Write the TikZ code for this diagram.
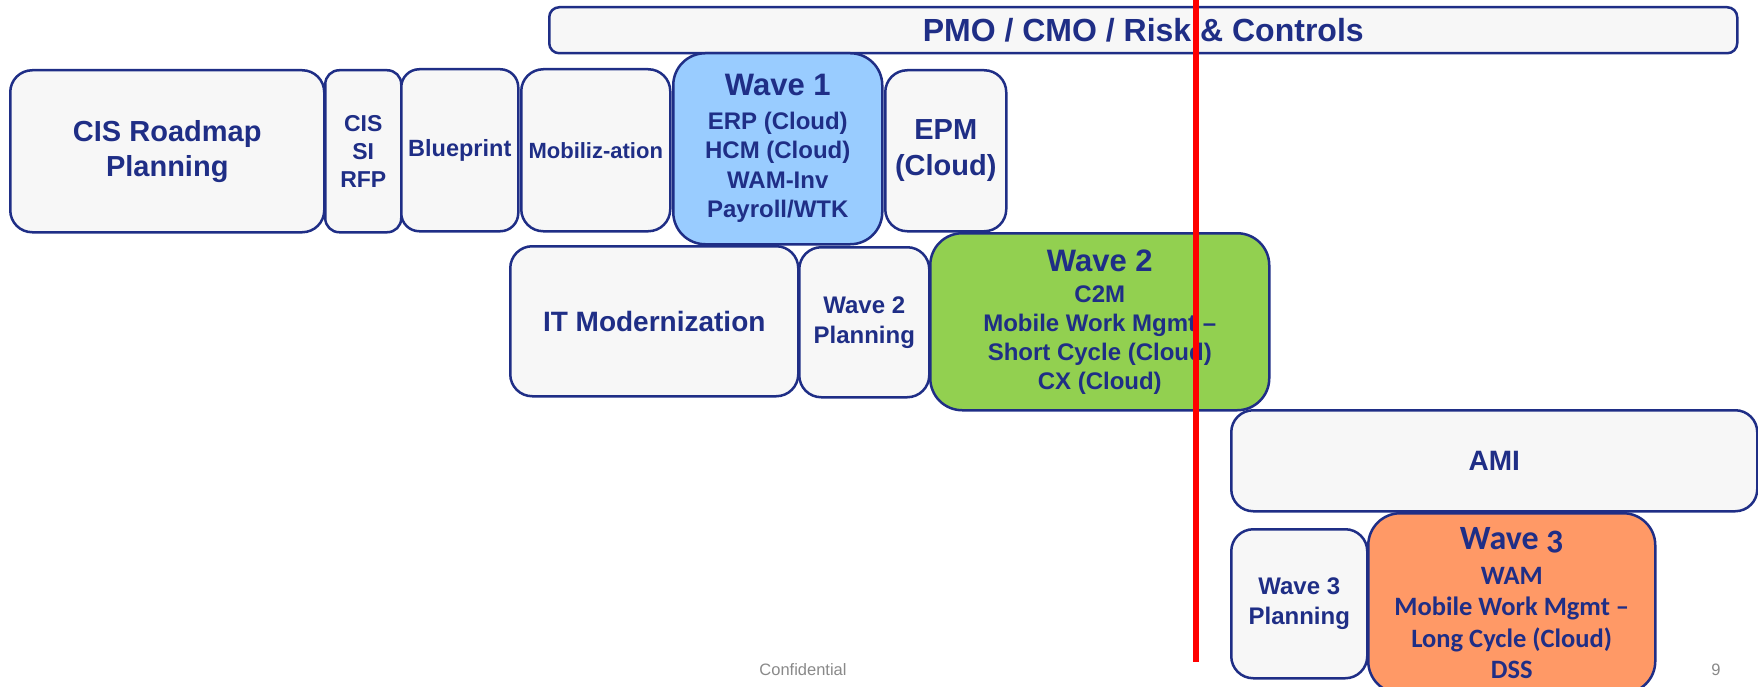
\documentclass[tikz,border=0pt]{standalone}
\usepackage{fontspec}
\setmainfont{Liberation Sans}
\newfontfamily\wavefont{Carlito}[Numbers=OldStyle]
\usepackage{xcolor}
\usepackage{tikz}

\definecolor{navy}{RGB}{31,46,134}
\definecolor{boxgray}{RGB}{247,247,247}
\definecolor{waveblue}{RGB}{153,204,255}
\definecolor{wavegreen}{RGB}{146,208,80}
\definecolor{waveorange}{RGB}{255,153,102}
\definecolor{footgray}{RGB}{137,137,137}
\newcommand{\fsz}[2]{\fontsize{#1}{#2}\selectfont}

\begin{document}
\begin{tikzpicture}[x=1pt,y=-1pt,
	phase/.style={draw=navy,line width=2.5pt,fill=boxgray,rounded corners=22pt,anchor=north west,inner sep=0pt,align=center,text=navy,font=\bfseries\fsz{24}{28}},
	foot/.style={text=footgray,anchor=base,inner sep=0pt,font=\fsz{16.5}{19}}]

	\useasboundingbox (0,0) rectangle (1758,687);

	\node[phase,rounded corners=10pt,minimum width=1188pt,minimum height=46pt,font=\bfseries\fsz{32}{36}] (pmo) at (548,6) {PMO / CMO / Risk \& Controls};

	\node[phase,minimum width=314pt,minimum height=162pt,font=\bfseries\fsz{29}{35}] (roadmap) at (9,69) {CIS Roadmap\\Planning};
	\node[phase,rounded corners=14pt,minimum width=76pt,minimum height=162pt,font=\bfseries\fsz{23}{28}] (sirfp) at (324,69) {CIS\\SI\\RFP};
	\node[phase,rounded corners=18pt,minimum width=117pt,minimum height=162pt,font=\bfseries\fsz{23.5}{28}] (blueprint) at (400,68) {Blueprint};
	\node[phase,minimum width=149pt,minimum height=162pt,font=\bfseries\fsz{22}{26}] (mobil) at (520,68) {Mobiliz-ation};
	\node[phase,fill=waveblue,rounded corners=32pt,minimum width=209pt,minimum height=191pt,font=\bfseries\fsz{24}{29.5}] (wave1) at (672,52) {{\fsz{31}{34}Wave 1}\\[4pt]ERP (Cloud)\\HCM (Cloud)\\WAM-Inv\\Payroll/WTK};
	\node[phase,minimum width=121pt,minimum height=161pt,font=\bfseries\fsz{29}{36}] (epm) at (884,69) {EPM\\(Cloud)};

	\node[phase,minimum width=288pt,minimum height=150pt,font=\bfseries\fsz{28}{32}] (itmod) at (509,245) {IT Modernization};
	\node[phase,minimum width=130pt,minimum height=150pt,font=\bfseries\fsz{24}{30}] (plan2) at (798,246) {Wave 2\\Planning};
	\node[phase,fill=wavegreen,rounded corners=32pt,minimum width=339pt,minimum height=177pt,font=\bfseries\fsz{24}{29}] (wave2) at (929,232) {{\fsz{31}{34}Wave 2}\\[2pt]C2M\\Mobile Work Mgmt –\\Short Cycle (Cloud)\\CX (Cloud)};

	\node[phase,minimum width=526pt,minimum height=101pt,font=\bfseries\fsz{28}{32}] (ami) at (1230,409) {AMI};

	\node[phase,minimum width=136pt,minimum height=149pt,font=\bfseries\fsz{24}{30}] (plan3) at (1230,528) {Wave 3\\Planning};
	\node[phase,fill=waveorange,rounded corners=32pt,minimum width=287pt,minimum height=180pt,font=\wavefont\bfseries\fsz{26.5}{31.5}] (wave3) at (1367,512) {{\fsz{34}{36}Wave 3}\\[3.5pt]WAM\\Mobile Work Mgmt –\\Long Cycle (Cloud)\\DSS};

	\node[foot] (conf) at (803,675) {Confidential};
	\node[foot] (page) at (1716,675) {9};

	\draw[red,line width=6pt] (1196,0) -- (1196,662);
\end{tikzpicture}
\end{document}
